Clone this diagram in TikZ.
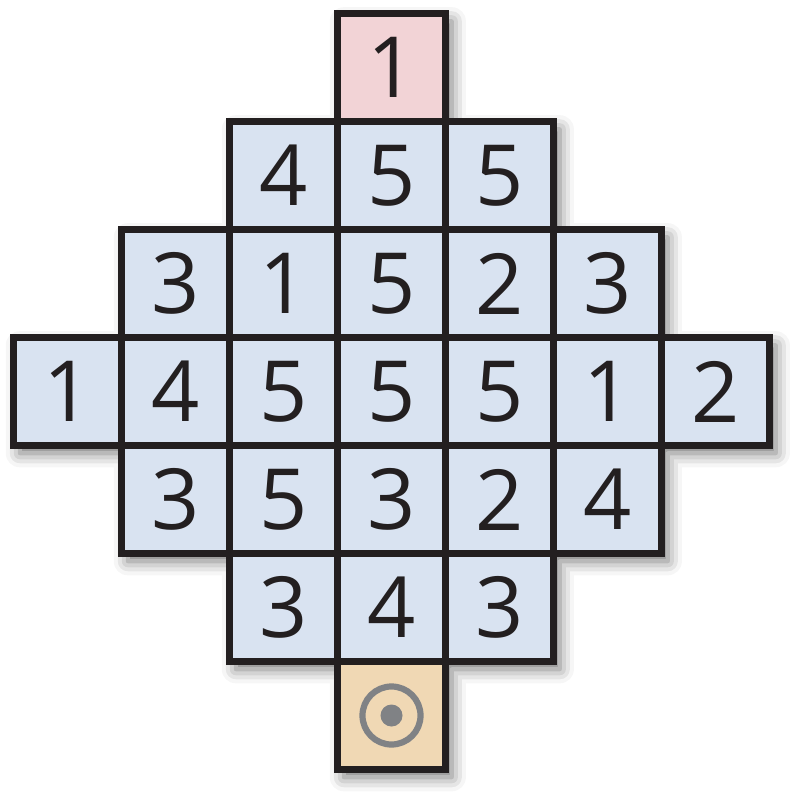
\documentclass[tikz,border=0pt]{standalone}
\usepackage{fontspec}
\setmainfont{Open Sans}
\usetikzlibrary{shadows.blur}
\definecolor{cellblue}{HTML}{D9E3F1}
\definecolor{cellpink}{HTML}{F2D3D6}
\definecolor{celltan}{HTML}{F0D8B4}
\definecolor{ink}{HTML}{231F20}
\definecolor{markgray}{HTML}{808285}
\tikzset{
  cell/.style={draw=ink, line width=0.065cm, minimum size=1.08cm, inner sep=0pt, outer sep=0pt,
    text=ink, font=\fontsize{24}{24}\selectfont},
  bluecell/.style={cell, fill=cellblue},
}
\begin{document}
\begin{tikzpicture}[x=0.01cm, y=-0.01cm]
\useasboundingbox (0,0) rectangle (794,794);
% outline with shadow
\path[fill=white, blur shadow={shadow xshift=1.8pt, shadow yshift=-2.2pt, shadow blur radius=4pt, shadow opacity=55}]
  (337.5,13.5) -- (445.5,13.5) -- (445.5,121.5) -- (553.5,121.5) -- (553.5,229.5) -- (661.5,229.5)
  -- (661.5,337.5) -- (769.5,337.5) -- (769.5,445.5) -- (661.5,445.5) -- (661.5,553.5) -- (553.5,553.5)
  -- (553.5,661.5) -- (445.5,661.5) -- (445.5,769.5) -- (337.5,769.5) -- (337.5,661.5) -- (229.5,661.5)
  -- (229.5,553.5) -- (121.5,553.5) -- (121.5,445.5) -- (13.5,445.5) -- (13.5,337.5) -- (121.5,337.5)
  -- (121.5,229.5) -- (229.5,229.5) -- (229.5,121.5) -- (337.5,121.5) -- cycle;
% rows
\node[cell, fill=cellpink] (c0-3) at (391.5,67.5) {1};
\foreach \d [count=\i from 2] in {4,5,5}
  \node[bluecell] (c1-\i) at ({13.5+108*\i+54},175.5) {\d};
\foreach \d [count=\i from 1] in {3,1,5,2,3}
  \node[bluecell] (c2-\i) at ({13.5+108*\i+54},283.5) {\d};
\foreach \d [count=\i from 0] in {1,4,5,5,5,1,2}
  \node[bluecell] (c3-\i) at ({13.5+108*\i+54},391.5) {\d};
\foreach \d [count=\i from 1] in {3,5,3,2,4}
  \node[bluecell] (c4-\i) at ({13.5+108*\i+54},499.5) {\d};
\foreach \d [count=\i from 2] in {3,4,3}
  \node[bluecell] (c5-\i) at ({13.5+108*\i+54},607.5) {\d};
\node[cell, fill=celltan] (c6-3) at (391.5,715.5) {};
% target mark
\draw[markgray, line width=0.062cm] (c6-3.center) circle[radius=0.29cm];
\fill[markgray] (c6-3.center) circle[radius=0.11cm];
\end{tikzpicture}
\end{document}
